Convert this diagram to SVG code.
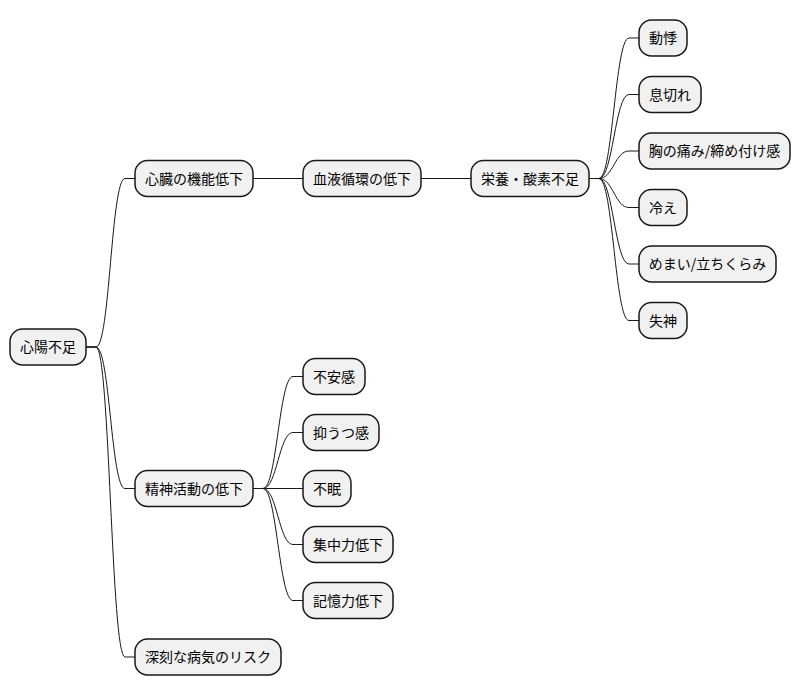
<svg xmlns="http://www.w3.org/2000/svg" width="801" height="696" viewBox="0 0 801 696">
<style>
rect{fill:#F1F1F1;stroke:#181818;stroke-width:1.5}
text{font-family:"Noto Sans CJK JP","Noto Sans CJK SC",sans-serif;font-size:14px;fill:#000;text-anchor:middle}
.c path{fill:none;stroke:#181818;stroke-width:1}
</style>
<rect x="0" y="0" width="801" height="696" style="fill:#fff;stroke:none"/>
<g class="c" id="connectors">
<path d="M86,347 L96,347 C110,347 111,178.5 125,178.5 L135,178.5"/>
<path d="M86,347 L96,347 C110,347 111,488.5 125,488.5 L135,488.5"/>
<path d="M86,347 L96,347 C110,347 111,657 125,657 L135,657"/>
<path d="M253,178.5 L303,178.5"/>
<path d="M421,178.5 L471,178.5"/>
<path d="M589,178.5 L599,178.5 C613,178.5 615,38 629,38 L639,38"/>
<path d="M589,178.5 L599,178.5 C613,178.5 615,94.5 629,94.5 L639,94.5"/>
<path d="M589,178.5 L599,178.5 C613,178.5 615,151 629,151 L639,151"/>
<path d="M589,178.5 L599,178.5 C613,178.5 615,207.5 629,207.5 L639,207.5"/>
<path d="M589,178.5 L599,178.5 C613,178.5 615,264 629,264 L639,264"/>
<path d="M589,178.5 L599,178.5 C613,178.5 615,320.5 629,320.5 L639,320.5"/>
<path d="M253,488.5 L263,488.5 C277,488.5 279,376.5 293,376.5 L303,376.5"/>
<path d="M253,488.5 L263,488.5 C277,488.5 279,432.5 293,432.5 L303,432.5"/>
<path d="M253,488.5 L303,488.5"/>
<path d="M253,488.5 L263,488.5 C277,488.5 279,544.5 293,544.5 L303,544.5"/>
<path d="M253,488.5 L263,488.5 C277,488.5 279,600.5 293,600.5 L303,600.5"/>
</g>
<g id="n_root"><rect x="10" y="329" width="76" height="36" rx="12.5"/><text x="48" y="352">心陽不足</text></g>
<g id="n_heart"><rect x="135" y="160.5" width="118" height="36" rx="12.5"/><text x="194" y="183.5">心臓の機能低下</text></g>
<g id="n_blood"><rect x="303" y="160.5" width="118" height="36" rx="12.5"/><text x="362" y="183.5">血液循環の低下</text></g>
<g id="n_nutri"><rect x="471" y="160.5" width="118" height="36" rx="12.5"/><text x="530" y="183.5">栄養・酸素不足</text></g>
<g id="n_palp"><rect x="639" y="20" width="48" height="36" rx="12.5"/><text x="663" y="43">動悸</text></g>
<g id="n_breath"><rect x="639" y="76.5" width="62" height="36" rx="12.5"/><text x="670" y="99.5">息切れ</text></g>
<g id="n_chest"><rect x="639" y="133" width="151" height="36" rx="12.5"/><text x="714.5" y="156">胸の痛み/締め付け感</text></g>
<g id="n_cold"><rect x="639" y="189.5" width="48" height="36" rx="12.5"/><text x="663" y="212.5">冷え</text></g>
<g id="n_dizzy"><rect x="639" y="246" width="137" height="36" rx="12.5"/><text x="707.5" y="269">めまい/立ちくらみ</text></g>
<g id="n_faint"><rect x="639" y="302.5" width="48" height="36" rx="12.5"/><text x="663" y="325.5">失神</text></g>
<g id="n_mind"><rect x="135" y="470.5" width="118" height="36" rx="12.5"/><text x="194" y="493.5">精神活動の低下</text></g>
<g id="n_anx"><rect x="303" y="358.5" width="62" height="36" rx="12.5"/><text x="334" y="381.5">不安感</text></g>
<g id="n_dep"><rect x="303" y="414.5" width="76" height="36" rx="12.5"/><text x="341" y="437.5">抑うつ感</text></g>
<g id="n_insom"><rect x="303" y="470.5" width="48" height="36" rx="12.5"/><text x="327" y="493.5">不眠</text></g>
<g id="n_conc"><rect x="303" y="526.5" width="90" height="36" rx="12.5"/><text x="348" y="549.5">集中力低下</text></g>
<g id="n_mem"><rect x="303" y="582.5" width="90" height="36" rx="12.5"/><text x="348" y="605.5">記憶力低下</text></g>
<g id="n_risk"><rect x="135" y="639" width="146" height="36" rx="12.5"/><text x="208" y="662">深刻な病気のリスク</text></g>
</svg>
